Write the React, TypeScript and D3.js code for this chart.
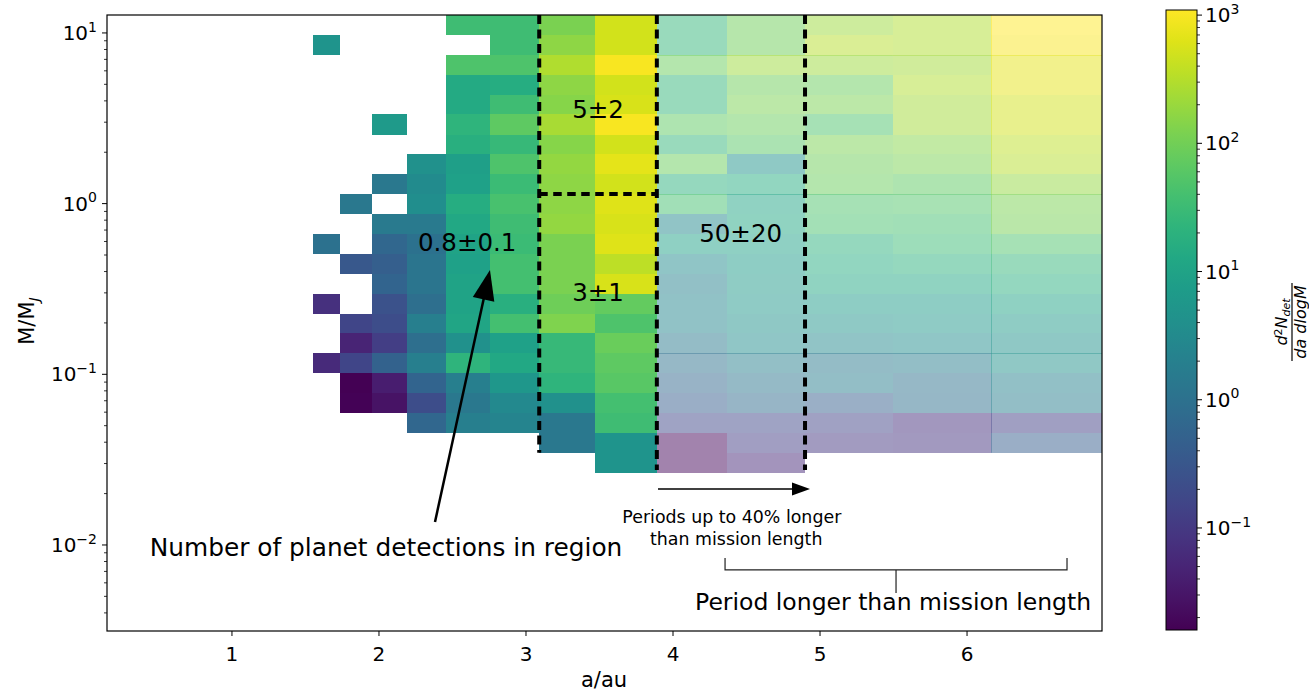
import React from 'react';
import * as d3 from 'd3';

// ---------- axes / bins ----------
const A_DOMAIN = [0.15, 6.918];
const M_DOMAIN = [0.003133, 12.74];
const X_TICKS = [1, 2, 3, 4, 5, 6];
const Y_EXPONENTS = [-2, -1, 0, 1];
const CBAR_EXPONENTS = [-1, 0, 1, 2, 3];
const COLOR_DOMAIN = [0.016, 1096];

// semi-major axis bin edges (au), left to right
const aBinEdges = [1.549, 1.738, 1.95, 2.188, 2.455, 2.754, 3.09, 3.467, 3.89, 4.365, 4.898, 5.495, 6.166, 6.918];
// mass bin edges (M_J), top to bottom
const massBinEdges = [12.74, 9.74, 7.44, 5.69, 4.35, 3.33, 2.54, 1.945, 1.487, 1.137, 0.869, 0.664, 0.508, 0.388, 0.297, 0.227, 0.1735, 0.1327, 0.1014, 0.0776, 0.0593, 0.0453, 0.0347, 0.0265];

// d2N_det / (da dlogM), one array per a-bin, rows top (high mass) to bottom
const N = null;
const dens_a1p55 = [N, 5.2, N, N, N, N, N, N, N, N, N, 1.0, N, N, 0.075, N, N, 0.06, N, N, N, N, N];
const dens_a1p74 = [N, N, N, N, N, N, N, N, N, 1.4, N, N, 0.33, N, N, 0.16, 0.048, 0.16, 0.016, 0.017, N, N, N];
const dens_a1p95 = [N, N, N, N, N, 6.5, N, N, 1.4, N, 1.5, 0.63, 0.45, 0.56, 0.26, 0.21, 0.12, 0.5, 0.039, 0.028, N, N, N];
const dens_a2p19 = [N, N, N, N, N, N, N, 4.2, 3.3, 3.7, 1.5, 1.0, 1.2, 1.2, 0.88, 1.9, 0.88, 1.9, 0.56, 0.21, 0.63, N, N];
const dens_a2p46 = [35, N, 48, 14, 14, 22, 18, 8.1, 9.1, 16, 12.7, 10, 9.1, 10, 10, 11, 4.2, 22, 1.9, 1.4, 1.9, N, N];
const dens_a2p75 = [35, 35, 48, 16, 35, 68, 28, 48, 31, 43, 35, 31, 39, 39, 18, 39, 9.1, 12.7, 5.8, 3.0, 2.4, N, N];
const dens_a3p09 = [118, 165, 288, 165, 148, 258, 148, 184, 165, 165, 184, 118, 118, 118, 94, 130, 28, 28, 22, 4.2, 1.4, 1.4, N];
const dens_a3p47 = [502, 502, 981, 502, 562, 981, 502, 702, 502, 628, 562, 628, 360, 562, 76, 48, 85, 68, 60, 39, 35, 5.2, 5.2];
const dens_a3p89 = [25, 25, 85, 25, 25, 68, 25, 85, 20, 39, 3.0, 9.1, 3.3, 2.1, 2.7, 2.7, 1.5, 0.98, 0.63, 0.4, 0.18, 0.02, 0.02];
const dens_a4p37 = [94, 94, 206, 94, 118, 85, 60, 5.2, 16, 11.4, 12.7, 9.1, 7.3, 6.5, 5.8, 4.7, 3.7, 1.9, 1.2, 0.78, 0.18, 0.12, 0.06];
const dens_a4p90 = [206, 322, 206, 85, 118, 48, 118, 94, 85, 48, 43, 20, 16, 12.7, 7.3, 5.2, 3.0, 1.5, 1.7, 0.45, 0.15, 0.094, N];
const dens_a5p50 = [288, 288, 230, 288, 230, 230, 148, 118, 68, 54, 39, 31, 20, 12.7, 7.3, 5.8, 3.7, 1.7, 0.98, 0.88, 0.075, 0.084, N];
const dens_a6p17 = [1090, 981, 702, 702, 502, 502, 360, 322, 184, 118, 105, 48, 25, 17.7, 10.2, 6.5, 4.7, 4.2, 2.1, 1.7, 0.13, 0.4, N];
const densityColumns = [dens_a1p55, dens_a1p74, dens_a1p95, dens_a2p19, dens_a2p46, dens_a2p75, dens_a3p09, dens_a3p47, dens_a3p89, dens_a4p37, dens_a4p90, dens_a5p50, dens_a6p17];

const FADED_FROM_COL = 8; // periods longer than mission length
const SEAM_ROWS = [2, 9, 17];
const SEAM_COL = 12;

// annotations (data coordinates)
const regionLabels = [
  { text: '5±2', a: 3.49, m: 3.58 },
  { text: '3±1', a: 3.49, m: 0.303 },
  { text: '0.8±0.1', a: 2.6, m: 0.595 },
  { text: '50±20', a: 4.46, m: 0.664 },
];

const FONT = "'DejaVu Sans', Verdana, sans-serif";

function arrowPath(x1: number, y1: number, x2: number, y2: number, headLen: number, headW: number) {
  const dx = x2 - x1, dy = y2 - y1;
  const L = Math.hypot(dx, dy);
  const ux = dx / L, uy = dy / L;
  const bx = x2 - ux * headLen, by = y2 - uy * headLen;
  const px = -uy, py = ux;
  return {
    shaft: { x1, y1, x2: bx + ux * 2, y2: by + uy * 2 },
    head: `M${x2},${y2}L${bx + px * headW / 2},${by + py * headW / 2}L${bx - px * headW / 2},${by - py * headW / 2}Z`,
  };
}

function Pow10({ exp, size }: { exp: number; size: number }) {
  return (
    <>
      {'10'}
      <tspan dy={-size * 0.42} fontSize={size * 0.7}>{exp < 0 ? '\u2212' + Math.abs(exp) : String(exp)}</tspan>
    </>
  );
}

export default function App() {
  const x = d3.scaleLinear().domain(A_DOMAIN).range([107, 1102]);
  const y = d3.scaleLog().domain(M_DOMAIN).range([631, 15]);
  const color = d3.scaleSequentialLog(d3.interpolateViridis).domain(COLOR_DOMAIN);
  const cb = d3.scaleLog().domain(COLOR_DOMAIN).range([630, 10]);
  const cbX0 = 1166, cbX1 = 1197;

  const cells: JSX.Element[] = [];
  densityColumns.forEach((col, ci) => {
    col.forEach((v, ri) => {
      if (v == null) return;
      const x0 = x(aBinEdges[ci]), x1 = x(aBinEdges[ci + 1]);
      const y0 = y(massBinEdges[ri]), y1 = y(massBinEdges[ri + 1]);
      cells.push(
        <rect key={`c${ci}-${ri}`} x={x0} y={y0} width={x1 - x0} height={y1 - y0}
          fill={color(v)} opacity={ci >= FADED_FROM_COL ? 0.5 : 1} shapeRendering="crispEdges" />
      );
    });
  });

  // faint overlap seams in faded region
  const seams: JSX.Element[] = [];
  densityColumns.forEach((col, ci) => {
    if (ci < FADED_FROM_COL) return;
    SEAM_ROWS.forEach((ri) => {
      const v = col[ri];
      if (v == null) return;
      seams.push(<line key={`sh${ci}-${ri}`} x1={x(aBinEdges[ci])} x2={x(aBinEdges[ci + 1])}
        y1={Math.round(y(massBinEdges[ri])) + 0.5} y2={Math.round(y(massBinEdges[ri])) + 0.5}
        stroke={color(v)} strokeOpacity={0.4} strokeWidth={1} />);
    });
    if (ci === SEAM_COL) {
      col.forEach((v, ri) => {
        if (v == null) return;
        const xx = Math.round(x(aBinEdges[ci])) + 0.5;
        seams.push(<line key={`sv${ri}`} x1={xx} x2={xx} y1={y(massBinEdges[ri])} y2={y(massBinEdges[ri + 1])}
          stroke={color(v)} strokeOpacity={0.4} strokeWidth={1} />);
      });
    }
  });

  // minor ticks
  const yMinor: number[] = [];
  for (let k = -3; k <= 1; k++) for (let m = 2; m <= 9; m++) {
    const v = m * Math.pow(10, k);
    if (v >= M_DOMAIN[0] && v <= M_DOMAIN[1]) yMinor.push(v);
  }
  const cbMinor: number[] = [];
  for (let k = -2; k <= 3; k++) for (let m = 2; m <= 9; m++) {
    const v = m * Math.pow(10, k);
    if (v >= COLOR_DOMAIN[0] && v <= COLOR_DOMAIN[1]) cbMinor.push(v);
  }

  const stops = d3.range(0, 1.0001, 0.05);

  const bigArrow = arrowPath(x(2.381), y(0.01365), x(2.755), y(0.408), 30, 22);
  const hArrow = arrowPath(x(3.898), y(0.0213), x(4.932), y(0.0213), 18, 13);

  const dash = '9 5.5';
  const dividerX = [
    { a: aBinEdges[6], mBottom: massBinEdges[22] },
    { a: aBinEdges[8], mBottom: 0.0275 },
    { a: aBinEdges[10], mBottom: 0.0275 },
  ];

  // bracket
  const brL = x(4.354), brR = x(6.68), brTop = y(0.00839), brY = y(0.00714), brMid = x(5.517), brBot = y(0.00524);

  return (
    <svg width={1309} height={691} style={{ position: 'absolute', left: 0, top: 0, display: 'block' }}
      fontFamily={FONT}>
      <defs>
        <linearGradient id="viridisGrad" x1="0" y1="1" x2="0" y2="0">
          {stops.map((s) => (
            <stop key={s} offset={s} stopColor={d3.interpolateViridis(s)} />
          ))}
        </linearGradient>
      </defs>
      <rect x={0} y={0} width={1309} height={691} fill="#fff" />

      {cells}
      {seams}

      {/* dashed region dividers */}
      {dividerX.map((d, i) => (
        <line key={`dv${i}`} x1={x(d.a)} x2={x(d.a)} y1={y(M_DOMAIN[1])} y2={y(d.mBottom)}
          stroke="#000" strokeWidth={4} strokeDasharray={dash} />
      ))}
      <line x1={x(aBinEdges[6])} x2={x(aBinEdges[8])} y1={y(massBinEdges[9])} y2={y(massBinEdges[9])}
        stroke="#000" strokeWidth={4} strokeDasharray="8.5 5.5" />

      {/* region counts */}
      {regionLabels.map((r) => (
        <text key={r.text} x={x(r.a)} y={y(r.m)} textAnchor="middle" dominantBaseline="central"
          fontSize={24.5} fill="#000">{r.text}</text>
      ))}

      {/* big arrow */}
      <line {...bigArrow.shaft} stroke="#000" strokeWidth={2.5} />
      <path d={bigArrow.head} fill="#000" />
      <text x={x(2.048)} y={y(0.0096)} textAnchor="middle" dominantBaseline="central" fontSize={24.8}>
        Number of planet detections in region
      </text>

      {/* horizontal arrow */}
      <line {...hArrow.shaft} stroke="#000" strokeWidth={1.6} />
      <path d={hArrow.head} fill="#000" />
      <text x={x(4.40)} y={y(0.01459)} textAnchor="middle" dominantBaseline="central" fontSize={17.4}>
        Periods up to 40% longer
      </text>
      <text x={x(4.43)} y={y(0.01083)} textAnchor="middle" dominantBaseline="central" fontSize={17.4}>
        than mission length
      </text>

      {/* bracket */}
      <path d={`M${brL},${brTop}L${brL},${brY}L${brR},${brY}L${brR},${brTop}M${brMid},${brY}L${brMid},${brBot}`}
        fill="none" stroke="#222" strokeWidth={1.2} />
      <text x={x(5.497)} y={y(0.00463)} textAnchor="middle" dominantBaseline="central" fontSize={23.5}>
        Period longer than mission length
      </text>

      {/* frame */}
      <rect x={107} y={15} width={1102 - 107} height={631 - 15} fill="none" stroke="#000" strokeWidth={1.2} />

      {/* x ticks */}
      {X_TICKS.map((t) => (
        <g key={`xt${t}`}>
          <line x1={x(t)} x2={x(t)} y1={631} y2={636} stroke="#000" strokeWidth={1} />
          <text x={x(t)} y={661} textAnchor="middle" fontSize={20}>{t}</text>
        </g>
      ))}
      <text x={604} y={687} textAnchor="middle" fontSize={21}>a/au</text>

      {/* y ticks */}
      {yMinor.map((v) => (
        <line key={`ym${v}`} x1={104} x2={107} y1={y(v)} y2={y(v)} stroke="#000" strokeWidth={0.8} />
      ))}
      {Y_EXPONENTS.map((e) => (
        <g key={`yt${e}`}>
          <line x1={102} x2={107} y1={y(Math.pow(10, e))} y2={y(Math.pow(10, e))} stroke="#000" strokeWidth={1} />
          <text x={97} y={y(Math.pow(10, e)) + 7} textAnchor="end" fontSize={20}>
            <Pow10 exp={e} size={20} />
          </text>
        </g>
      ))}
      <text transform="translate(34,321) rotate(-90)" textAnchor="middle" fontSize={21}>
        M/M<tspan dy={5} fontSize={14.5} fontStyle="italic">J</tspan>
      </text>

      {/* colorbar */}
      <rect x={cbX0} y={10} width={cbX1 - cbX0} height={620} fill="url(#viridisGrad)" />
      <rect x={cbX0} y={10} width={cbX1 - cbX0} height={620} fill="none" stroke="#000" strokeWidth={1} />
      {cbMinor.map((v) => (
        <line key={`cm${v}`} x1={cbX1} x2={cbX1 + 3} y1={cb(v)} y2={cb(v)} stroke="#000" strokeWidth={0.8} />
      ))}
      {CBAR_EXPONENTS.map((e) => (
        <g key={`ct${e}`}>
          <line x1={cbX1} x2={cbX1 + 5} y1={cb(Math.pow(10, e))} y2={cb(Math.pow(10, e))} stroke="#000" strokeWidth={1} />
          <text x={1205} y={cb(Math.pow(10, e)) + 7} fontSize={20}>
            <Pow10 exp={e} size={20} />
          </text>
        </g>
      ))}
      <g transform="translate(1292,322) rotate(-90)">
        <text y={-5} textAnchor="middle" fontSize={16} fontStyle="italic">
          d<tspan dy={-5} fontSize={11} fontStyle="normal">2</tspan><tspan dy={5}>N</tspan><tspan dy={3} fontSize={11}>det</tspan>
        </text>
        <line x1={-39} x2={39} y1={0} y2={0} stroke="#000" strokeWidth={1.2} />
        <text y={14} textAnchor="middle" fontSize={16} fontStyle="italic">da dlogM</text>
      </g>
    </svg>
  );
}
